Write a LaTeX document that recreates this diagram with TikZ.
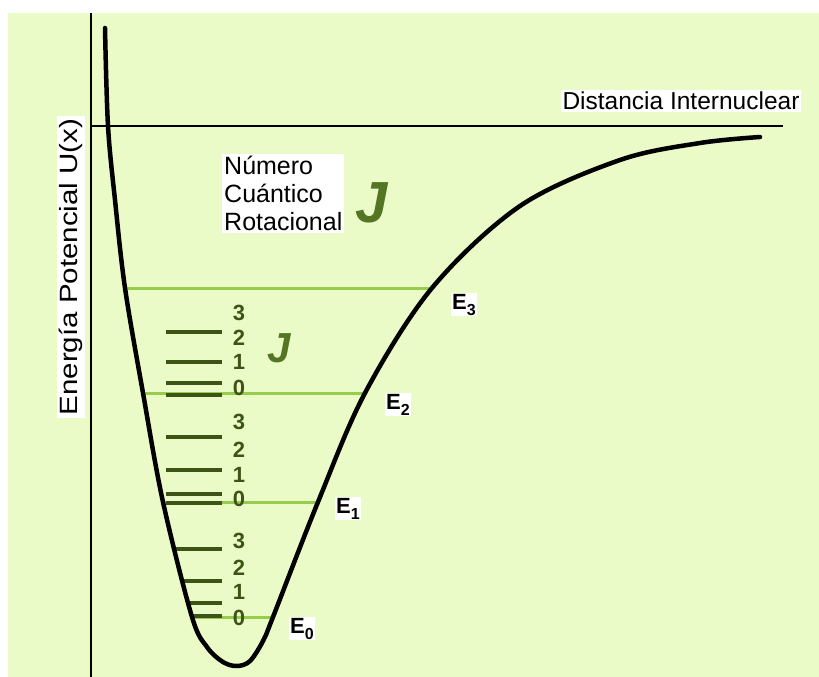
\documentclass[tikz,border=0pt]{standalone}
\usepackage{fontspec}
\setmainfont{Liberation Sans}
\usetikzlibrary{positioning,calc}
\definecolor{bggreen}{RGB}{234,251,200}
\definecolor{vibgreen}{RGB}{150,205,75}
\definecolor{rotolive}{RGB}{62,84,22}
\definecolor{jgreen}{RGB}{84,118,36}
\tikzset{
  potcurve/.style={line width=4.5pt, black, line join=round, line cap=round},
  axisline/.style={line width=2.6pt, black},
  vibline/.style={line width=3pt, vibgreen},
  rotbar/.style={line width=4pt, rotolive},
  rotnum/.style={text=rotolive, font=\fontsize{22}{22}\selectfont\bfseries, inner sep=0pt},
  elabel/.style={fill=white, inner sep=1pt, anchor=base west,
                 font=\fontsize{22}{22}\selectfont\bfseries},
  whitebox/.style={fill=white, inner sep=2pt},
}
\newcommand\esub[1]{E\raisebox{-6pt}{\fontsize{16}{16}\selectfont #1}}

\begin{document}
\begin{tikzpicture}[x=1pt, y=-1pt]
  \fill[white] (0,0) rectangle (819,677);
  \fill[bggreen] (8,13) rectangle (819,677);
  \useasboundingbox (0,0) rectangle (819,677);

  % points on the potential curve
  \coordinate (top) at (105,28);
  \coordinate (l3) at (125,288);
  \coordinate (r3) at (432,288);
  \coordinate (l2) at (143,393);
  \coordinate (r2) at (365,393);
  \coordinate (l1) at (163,502);
  \coordinate (r1) at (318,502);
  \coordinate (l0) at (192,617);
  \coordinate (r0) at (273,617);
  \coordinate (far) at (760,137);
  \path[save path=\potential] plot[smooth, tension=0.55] coordinates
    {(top) (108,126) (115,200) (l3) (l2) (l1) (l0) (207,647) (223,662)
     (237,666) (250,661) (263,641) (r0) (r1) (r2) (r3) (520,206) (620,160)
     (700,143) (far)};

  % axes
  \coordinate (o) at (91,126);
  \coordinate (ytop) at (91,13);
  \coordinate (ybot) at (91,677);
  \coordinate (xend) at (783,126);
  \draw[axisline] (ytop) -- (ybot);
  \draw[axisline] (o) -- (xend);

  % vibrational levels
  \draw[vibline] (l3) -- (r3);
  \draw[vibline] (l2) -- (r2);
  \draw[vibline] (l1) -- (r1);
  \draw[vibline] (l0) -- (r0);

  % rotational levels
  \begin{scope}
    \clip[use path=\potential];
    \foreach \yb in {616,603,581,549,503,494,470,437,395,383,362,332}
      \draw[rotbar] (166,\yb) -- (222,\yb);
  \end{scope}
  \foreach \j/\yn in {0/618,1/592,2/568,3/541,0/499,1/475,2/450,3/422,
                      0/388,1/362,2/338,3/313}
    \node[rotnum] (n\j-\yn) at (239,\yn) {\j};

  \draw[potcurve, use path=\potential];

  % labels
  \node[elabel] (e3) at ($(r3)+(19,21)$) {\esub{3}};
  \node[elabel] (e2) at ($(r2)+(20,16)$) {\esub{2}};
  \node[elabel] (e1) at ($(r1)+(17,11)$) {\esub{1}};
  \node[elabel] (e0) at ($(r0)+(16,16)$) {\esub{0}};

  \node[whitebox, align=left, anchor=north west, font=\fontsize{25}{28}\selectfont]
    (cap) at (222,154) {Número\\Cuántico\\Rotacional};
  \node[text=jgreen, font=\fontsize{58}{58}\selectfont\bfseries\itshape,
    right=7pt of cap, yshift=-9pt] (bigj) {J};
  \node[text=jgreen, font=\fontsize{42}{42}\selectfont\bfseries\itshape]
    (smallj) at (279,348) {J};

  \node[whitebox, font=\fontsize{24.5}{24.5}\selectfont] (dist) at (681,101)
    {Distancia Internuclear};
  \node[whitebox, rotate=90, xscale=1.18, font=\fontsize{25}{25}\selectfont]
    (ylab) at (71,267) {Energía Potencial U(x)};
\end{tikzpicture}
\end{document}
